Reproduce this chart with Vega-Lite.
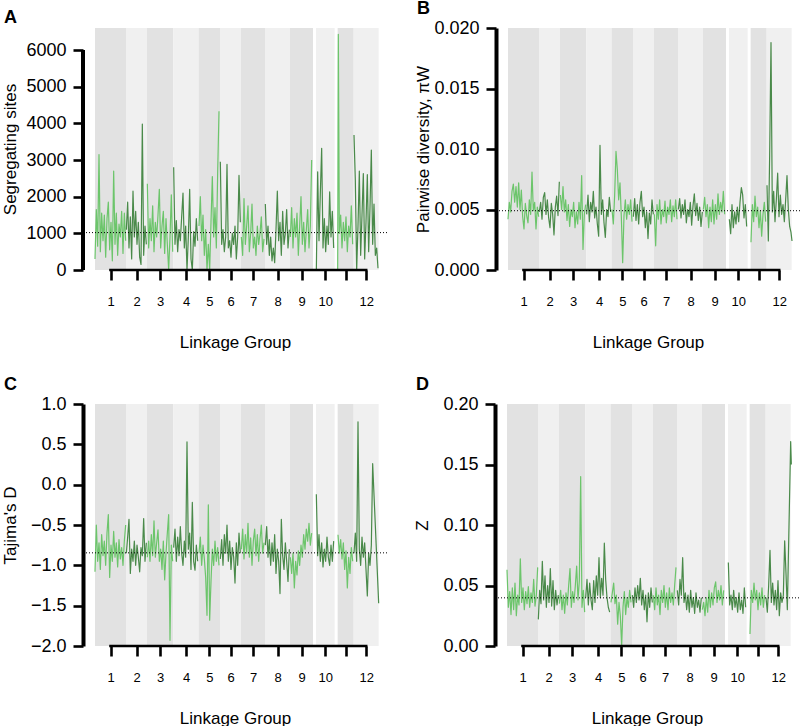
{
"$schema": "https://vega.github.io/schema/vega-lite/v6.json",
"padding": {"left": 0, "top": 0, "right": 0, "bottom": 0},
"background": "white",
"config": {
  "view": {"stroke": null},
  "font": "Liberation Sans",
  "axis": {"grid": false, "domain": false, "tickColor": "black", "tickWidth": 2.6, "tickSize": 10, "labelColor": "black", "labelFont": "Liberation Sans", "labelFontSize": 18, "titleFont": "Liberation Sans", "titleFontSize": 17, "titleFontWeight": "normal", "titleColor": "black"},
  "axisX": {"labelFontSize": 13, "labelPadding": 15, "titleY": 72, "titleBaseline": "middle"},
  "axisY": {"labelPadding": 7, "titleX": -73, "titleBaseline": "middle"},
  "title": {"anchor": "start", "frame": "group", "fontSize": 18, "fontWeight": "bold", "color": "black", "font": "Liberation Sans", "offset": 1}
},
"datasets": {
"bands": [{"s":0,"e":93,"k":"d"},{"s":93,"e":156,"k":"l"},{"s":156,"e":235,"k":"d"},{"s":235,"e":311,"k":"l"},{"s":311,"e":375,"k":"d"},{"s":375,"e":438,"k":"l"},{"s":438,"e":510,"k":"d"},{"s":510,"e":585,"k":"l"},{"s":585,"e":654,"k":"d"},{"s":663,"e":719,"k":"l"},{"s":728,"e":776,"k":"d"},{"s":776,"e":851,"k":"l"}],
"a": [
{"g":1,"x":0,"y":300},{"g":1,"x":4,"y":1650},{"g":1,"x":8,"y":650},{"g":1,"x":12,"y":3150},{"g":1,"x":16,"y":500},{"g":1,"x":20,"y":1550},{"g":1,"x":24,"y":800},{"g":1,"x":28,"y":1500},{"g":1,"x":32,"y":350},{"g":1,"x":36,"y":1400},{"g":1,"x":40,"y":1850},{"g":1,"x":44,"y":550},{"g":1,"x":48,"y":1300},{"g":1,"x":52,"y":250},{"g":1,"x":56,"y":2700},{"g":1,"x":60,"y":700},{"g":1,"x":64,"y":1550},{"g":1,"x":68,"y":400},{"g":1,"x":72,"y":1250},{"g":1,"x":76,"y":900},{"g":1,"x":80,"y":1600},{"g":1,"x":84,"y":450},{"g":1,"x":88,"y":1550},{"g":1,"x":92,"y":800},
{"g":2,"x":94,"y":1100},{"g":2,"x":98,"y":1850},{"g":2,"x":102,"y":600},{"g":2,"x":106,"y":1450},{"g":2,"x":110,"y":300},{"g":2,"x":114,"y":2150},{"g":2,"x":118,"y":900},{"g":2,"x":122,"y":1600},{"g":2,"x":126,"y":700},{"g":2,"x":130,"y":1300},{"g":2,"x":134,"y":350},{"g":2,"x":138,"y":150},{"g":2,"x":142,"y":3980},{"g":2,"x":146,"y":400},{"g":2,"x":150,"y":1200},{"g":2,"x":154,"y":700},
{"g":3,"x":157,"y":2350},{"g":3,"x":161,"y":600},{"g":3,"x":165,"y":1400},{"g":3,"x":169,"y":800},{"g":3,"x":173,"y":1750},{"g":3,"x":177,"y":500},{"g":3,"x":181,"y":1300},{"g":3,"x":185,"y":900},{"g":3,"x":189,"y":1500},{"g":3,"x":193,"y":2200},{"g":3,"x":197,"y":600},{"g":3,"x":201,"y":1200},{"g":3,"x":205,"y":1600},{"g":3,"x":209,"y":450},{"g":3,"x":213,"y":1400},{"g":3,"x":217,"y":700},{"g":3,"x":221,"y":0},{"g":3,"x":225,"y":900},{"g":3,"x":229,"y":2050},{"g":3,"x":233,"y":500},
{"g":4,"x":236,"y":2800},{"g":4,"x":240,"y":700},{"g":4,"x":244,"y":1350},{"g":4,"x":248,"y":500},{"g":4,"x":252,"y":1100},{"g":4,"x":256,"y":800},{"g":4,"x":260,"y":1450},{"g":4,"x":264,"y":2100},{"g":4,"x":268,"y":600},{"g":4,"x":272,"y":1200},{"g":4,"x":276,"y":0},{"g":4,"x":280,"y":900},{"g":4,"x":284,"y":2200},{"g":4,"x":288,"y":300},{"g":4,"x":292,"y":0},{"g":4,"x":296,"y":1050},{"g":4,"x":300,"y":650},{"g":4,"x":304,"y":1400},{"g":4,"x":308,"y":800},
{"g":5,"x":312,"y":1200},{"g":5,"x":316,"y":2000},{"g":5,"x":320,"y":800},{"g":5,"x":324,"y":1500},{"g":5,"x":328,"y":400},{"g":5,"x":332,"y":1100},{"g":5,"x":336,"y":0},{"g":5,"x":340,"y":700},{"g":5,"x":344,"y":0},{"g":5,"x":348,"y":1300},{"g":5,"x":352,"y":2550},{"g":5,"x":356,"y":900},{"g":5,"x":360,"y":1700},{"g":5,"x":364,"y":600},{"g":5,"x":368,"y":2650},{"g":5,"x":372,"y":4330},
{"g":6,"x":376,"y":2950},{"g":6,"x":380,"y":700},{"g":6,"x":384,"y":1100},{"g":6,"x":388,"y":500},{"g":6,"x":392,"y":900},{"g":6,"x":396,"y":2880},{"g":6,"x":400,"y":600},{"g":6,"x":404,"y":800},{"g":6,"x":408,"y":350},{"g":6,"x":412,"y":1000},{"g":6,"x":416,"y":700},{"g":6,"x":420,"y":1200},{"g":6,"x":424,"y":300},{"g":6,"x":428,"y":900},{"g":6,"x":432,"y":2580},{"g":6,"x":436,"y":1300},
{"g":7,"x":439,"y":900},{"g":7,"x":443,"y":400},{"g":7,"x":447,"y":1950},{"g":7,"x":451,"y":700},{"g":7,"x":455,"y":1200},{"g":7,"x":459,"y":1750},{"g":7,"x":463,"y":500},{"g":7,"x":467,"y":1000},{"g":7,"x":471,"y":1800},{"g":7,"x":475,"y":600},{"g":7,"x":479,"y":900},{"g":7,"x":483,"y":400},{"g":7,"x":487,"y":1200},{"g":7,"x":491,"y":700},{"g":7,"x":495,"y":1000},{"g":7,"x":499,"y":1450},{"g":7,"x":503,"y":500},{"g":7,"x":507,"y":850},
{"g":8,"x":511,"y":1800},{"g":8,"x":515,"y":700},{"g":8,"x":519,"y":1200},{"g":8,"x":523,"y":400},{"g":8,"x":527,"y":900},{"g":8,"x":531,"y":250},{"g":8,"x":535,"y":600},{"g":8,"x":539,"y":200},{"g":8,"x":543,"y":1100},{"g":8,"x":547,"y":2150},{"g":8,"x":551,"y":800},{"g":8,"x":555,"y":1300},{"g":8,"x":559,"y":400},{"g":8,"x":563,"y":1600},{"g":8,"x":567,"y":700},{"g":8,"x":571,"y":1000},{"g":8,"x":575,"y":1650},{"g":8,"x":579,"y":600},{"g":8,"x":583,"y":1100},
{"g":9,"x":586,"y":900},{"g":9,"x":590,"y":1700},{"g":9,"x":594,"y":600},{"g":9,"x":598,"y":1400},{"g":9,"x":602,"y":900},{"g":9,"x":606,"y":1550},{"g":9,"x":610,"y":400},{"g":9,"x":614,"y":1200},{"g":9,"x":618,"y":2000},{"g":9,"x":622,"y":700},{"g":9,"x":626,"y":1300},{"g":9,"x":630,"y":500},{"g":9,"x":634,"y":1100},{"g":9,"x":638,"y":1650},{"g":9,"x":642,"y":600},{"g":9,"x":646,"y":1200},{"g":9,"x":650,"y":3000},
{"g":10,"x":664,"y":0},{"g":10,"x":668,"y":2680},{"g":10,"x":672,"y":800},{"g":10,"x":676,"y":2100},{"g":10,"x":680,"y":3320},{"g":10,"x":684,"y":600},{"g":10,"x":688,"y":1400},{"g":10,"x":692,"y":500},{"g":10,"x":696,"y":1200},{"g":10,"x":700,"y":700},{"g":10,"x":704,"y":2130},{"g":10,"x":708,"y":900},{"g":10,"x":712,"y":1600},{"g":10,"x":716,"y":600},
{"g":11,"x":728,"y":0},{"g":11,"x":730,"y":6430},{"g":11,"x":733,"y":1000},{"g":11,"x":737,"y":1500},{"g":11,"x":741,"y":600},{"g":11,"x":745,"y":1300},{"g":11,"x":749,"y":800},{"g":11,"x":753,"y":1450},{"g":11,"x":757,"y":500},{"g":11,"x":761,"y":1200},{"g":11,"x":765,"y":900},{"g":11,"x":769,"y":1750},{"g":11,"x":773,"y":700},
{"g":12,"x":777,"y":3680},{"g":12,"x":781,"y":2450},{"g":12,"x":785,"y":0},{"g":12,"x":789,"y":1200},{"g":12,"x":793,"y":2700},{"g":12,"x":797,"y":400},{"g":12,"x":801,"y":1500},{"g":12,"x":805,"y":2630},{"g":12,"x":809,"y":300},{"g":12,"x":813,"y":1300},{"g":12,"x":817,"y":2600},{"g":12,"x":821,"y":500},{"g":12,"x":825,"y":1700},{"g":12,"x":829,"y":3270},{"g":12,"x":833,"y":700},{"g":12,"x":837,"y":1800},{"g":12,"x":841,"y":400},{"g":12,"x":845,"y":600},{"g":12,"x":849,"y":50}
],
"b": [
{"g":1,"x":0,"y":0.0042},{"g":1,"x":4,"y":0.0056},{"g":1,"x":8,"y":0.0048},{"g":1,"x":12,"y":0.0065},{"g":1,"x":16,"y":0.0071},{"g":1,"x":20,"y":0.0056},{"g":1,"x":24,"y":0.0069},{"g":1,"x":28,"y":0.0052},{"g":1,"x":32,"y":0.0072},{"g":1,"x":36,"y":0.0050},{"g":1,"x":40,"y":0.0066},{"g":1,"x":44,"y":0.0044},{"g":1,"x":48,"y":0.0034},{"g":1,"x":52,"y":0.0055},{"g":1,"x":56,"y":0.0045},{"g":1,"x":60,"y":0.0039},{"g":1,"x":64,"y":0.0058},{"g":1,"x":68,"y":0.0046},{"g":1,"x":72,"y":0.0081},{"g":1,"x":76,"y":0.0049},{"g":1,"x":80,"y":0.0056},{"g":1,"x":84,"y":0.0034},{"g":1,"x":88,"y":0.0052},{"g":1,"x":92,"y":0.0044},
{"g":2,"x":94,"y":0.0048},{"g":2,"x":98,"y":0.0056},{"g":2,"x":102,"y":0.0042},{"g":2,"x":106,"y":0.0060},{"g":2,"x":110,"y":0.0064},{"g":2,"x":114,"y":0.0046},{"g":2,"x":118,"y":0.0058},{"g":2,"x":122,"y":0.0043},{"g":2,"x":126,"y":0.0035},{"g":2,"x":130,"y":0.0055},{"g":2,"x":134,"y":0.0046},{"g":2,"x":138,"y":0.0029},{"g":2,"x":142,"y":0.0052},{"g":2,"x":146,"y":0.0061},{"g":2,"x":150,"y":0.0045},{"g":2,"x":154,"y":0.0073},
{"g":3,"x":157,"y":0.0062},{"g":3,"x":161,"y":0.0050},{"g":3,"x":165,"y":0.0069},{"g":3,"x":169,"y":0.0048},{"g":3,"x":173,"y":0.0058},{"g":3,"x":177,"y":0.0041},{"g":3,"x":181,"y":0.0054},{"g":3,"x":185,"y":0.0036},{"g":3,"x":189,"y":0.0050},{"g":3,"x":193,"y":0.0044},{"g":3,"x":197,"y":0.0056},{"g":3,"x":201,"y":0.0035},{"g":3,"x":205,"y":0.0048},{"g":3,"x":209,"y":0.0038},{"g":3,"x":213,"y":0.0056},{"g":3,"x":217,"y":0.0042},{"g":3,"x":221,"y":0.0078},{"g":3,"x":225,"y":0.0017},{"g":3,"x":229,"y":0.0046},{"g":3,"x":233,"y":0.0054},
{"g":4,"x":236,"y":0.0046},{"g":4,"x":240,"y":0.0062},{"g":4,"x":244,"y":0.0040},{"g":4,"x":248,"y":0.0056},{"g":4,"x":252,"y":0.0048},{"g":4,"x":256,"y":0.0065},{"g":4,"x":260,"y":0.0043},{"g":4,"x":264,"y":0.0052},{"g":4,"x":268,"y":0.0038},{"g":4,"x":272,"y":0.0028},{"g":4,"x":276,"y":0.0103},{"g":4,"x":280,"y":0.0046},{"g":4,"x":284,"y":0.0058},{"g":4,"x":288,"y":0.0039},{"g":4,"x":292,"y":0.0027},{"g":4,"x":296,"y":0.0050},{"g":4,"x":300,"y":0.0044},{"g":4,"x":304,"y":0.0060},{"g":4,"x":308,"y":0.0048},
{"g":5,"x":312,"y":0.0050},{"g":5,"x":316,"y":0.0038},{"g":5,"x":320,"y":0.0062},{"g":5,"x":324,"y":0.0098},{"g":5,"x":328,"y":0.0083},{"g":5,"x":332,"y":0.0058},{"g":5,"x":336,"y":0.0072},{"g":5,"x":340,"y":0.0044},{"g":5,"x":344,"y":0.0006},{"g":5,"x":348,"y":0.0045},{"g":5,"x":352,"y":0.0058},{"g":5,"x":356,"y":0.0042},{"g":5,"x":360,"y":0.0054},{"g":5,"x":364,"y":0.0046},{"g":5,"x":368,"y":0.0058},{"g":5,"x":372,"y":0.0040},
{"g":6,"x":376,"y":0.0044},{"g":6,"x":380,"y":0.0059},{"g":6,"x":384,"y":0.0041},{"g":6,"x":388,"y":0.0054},{"g":6,"x":392,"y":0.0038},{"g":6,"x":396,"y":0.0056},{"g":6,"x":400,"y":0.0065},{"g":6,"x":404,"y":0.0044},{"g":6,"x":408,"y":0.0052},{"g":6,"x":412,"y":0.0035},{"g":6,"x":416,"y":0.0048},{"g":6,"x":420,"y":0.0026},{"g":6,"x":424,"y":0.0047},{"g":6,"x":428,"y":0.0038},{"g":6,"x":432,"y":0.0058},{"g":6,"x":436,"y":0.0046},
{"g":7,"x":439,"y":0.0046},{"g":7,"x":443,"y":0.0020},{"g":7,"x":447,"y":0.0054},{"g":7,"x":451,"y":0.0042},{"g":7,"x":455,"y":0.0058},{"g":7,"x":459,"y":0.0038},{"g":7,"x":463,"y":0.0050},{"g":7,"x":467,"y":0.0044},{"g":7,"x":471,"y":0.0057},{"g":7,"x":475,"y":0.0039},{"g":7,"x":479,"y":0.0052},{"g":7,"x":483,"y":0.0046},{"g":7,"x":487,"y":0.0058},{"g":7,"x":491,"y":0.0040},{"g":7,"x":495,"y":0.0053},{"g":7,"x":499,"y":0.0044},{"g":7,"x":503,"y":0.0058},{"g":7,"x":507,"y":0.0042},
{"g":8,"x":511,"y":0.0050},{"g":8,"x":515,"y":0.0059},{"g":8,"x":519,"y":0.0043},{"g":8,"x":523,"y":0.0054},{"g":8,"x":527,"y":0.0046},{"g":8,"x":531,"y":0.0058},{"g":8,"x":535,"y":0.0039},{"g":8,"x":539,"y":0.0050},{"g":8,"x":543,"y":0.0044},{"g":8,"x":547,"y":0.0056},{"g":8,"x":551,"y":0.0037},{"g":8,"x":555,"y":0.0053},{"g":8,"x":559,"y":0.0063},{"g":8,"x":563,"y":0.0045},{"g":8,"x":567,"y":0.0055},{"g":8,"x":571,"y":0.0041},{"g":8,"x":575,"y":0.0052},{"g":8,"x":579,"y":0.0036},{"g":8,"x":583,"y":0.0048},
{"g":9,"x":586,"y":0.0050},{"g":9,"x":590,"y":0.0060},{"g":9,"x":594,"y":0.0044},{"g":9,"x":598,"y":0.0054},{"g":9,"x":602,"y":0.0035},{"g":9,"x":606,"y":0.0052},{"g":9,"x":610,"y":0.0040},{"g":9,"x":614,"y":0.0058},{"g":9,"x":618,"y":0.0038},{"g":9,"x":622,"y":0.0054},{"g":9,"x":626,"y":0.0042},{"g":9,"x":630,"y":0.0063},{"g":9,"x":634,"y":0.0046},{"g":9,"x":638,"y":0.0056},{"g":9,"x":642,"y":0.0048},{"g":9,"x":646,"y":0.0065},{"g":9,"x":650,"y":0.0046},
{"g":10,"x":664,"y":0.0042},{"g":10,"x":668,"y":0.0030},{"g":10,"x":672,"y":0.0054},{"g":10,"x":676,"y":0.0035},{"g":10,"x":680,"y":0.0048},{"g":10,"x":684,"y":0.0038},{"g":10,"x":688,"y":0.0052},{"g":10,"x":692,"y":0.0040},{"g":10,"x":696,"y":0.0056},{"g":10,"x":700,"y":0.0068},{"g":10,"x":704,"y":0.0062},{"g":10,"x":708,"y":0.0043},{"g":10,"x":712,"y":0.0054},{"g":10,"x":716,"y":0.0036},
{"g":11,"x":729,"y":0.0023},{"g":11,"x":733,"y":0.0054},{"g":11,"x":737,"y":0.0040},{"g":11,"x":741,"y":0.0061},{"g":11,"x":745,"y":0.0044},{"g":11,"x":749,"y":0.0052},{"g":11,"x":753,"y":0.0035},{"g":11,"x":757,"y":0.0049},{"g":11,"x":761,"y":0.0028},{"g":11,"x":765,"y":0.0046},{"g":11,"x":769,"y":0.0056},{"g":11,"x":773,"y":0.0040},
{"g":12,"x":777,"y":0.0070},{"g":12,"x":781,"y":0.0024},{"g":12,"x":785,"y":0.0095},{"g":12,"x":789,"y":0.0188},{"g":12,"x":793,"y":0.0048},{"g":12,"x":797,"y":0.0065},{"g":12,"x":801,"y":0.0040},{"g":12,"x":805,"y":0.0058},{"g":12,"x":809,"y":0.0080},{"g":12,"x":813,"y":0.0044},{"g":12,"x":817,"y":0.0062},{"g":12,"x":821,"y":0.0046},{"g":12,"x":825,"y":0.0054},{"g":12,"x":829,"y":0.0040},{"g":12,"x":833,"y":0.0058},{"g":12,"x":837,"y":0.0078},{"g":12,"x":841,"y":0.0050},{"g":12,"x":845,"y":0.0036},{"g":12,"x":849,"y":0.0031},{"g":12,"x":852,"y":0.0024}
],
"c": [
{"g":1,"x":0,"y":-1.08},{"g":1,"x":4,"y":-0.50},{"g":1,"x":8,"y":-0.95},{"g":1,"x":12,"y":-0.72},{"g":1,"x":16,"y":-1.05},{"g":1,"x":20,"y":-0.62},{"g":1,"x":24,"y":-0.88},{"g":1,"x":28,"y":-0.70},{"g":1,"x":32,"y":-1.0},{"g":1,"x":36,"y":-0.60},{"g":1,"x":40,"y":-0.37},{"g":1,"x":44,"y":-1.15},{"g":1,"x":48,"y":-0.75},{"g":1,"x":52,"y":-0.95},{"g":1,"x":56,"y":-0.58},{"g":1,"x":60,"y":-0.90},{"g":1,"x":64,"y":-0.72},{"g":1,"x":68,"y":-1.02},{"g":1,"x":72,"y":-0.68},{"g":1,"x":76,"y":-0.92},{"g":1,"x":80,"y":-0.78},{"g":1,"x":84,"y":-1.0},{"g":1,"x":88,"y":-0.70},{"g":1,"x":92,"y":-0.50},
{"g":2,"x":94,"y":-0.85},{"g":2,"x":98,"y":-0.65},{"g":2,"x":102,"y":-0.43},{"g":2,"x":106,"y":-1.10},{"g":2,"x":110,"y":-0.80},{"g":2,"x":114,"y":-0.95},{"g":2,"x":118,"y":-0.70},{"g":2,"x":122,"y":-1.0},{"g":2,"x":126,"y":-0.75},{"g":2,"x":130,"y":-0.90},{"g":2,"x":134,"y":-1.08},{"g":2,"x":138,"y":-0.78},{"g":2,"x":142,"y":-0.88},{"g":2,"x":146,"y":-0.42},{"g":2,"x":150,"y":-0.95},{"g":2,"x":154,"y":-0.72},
{"g":3,"x":157,"y":-0.90},{"g":3,"x":161,"y":-0.70},{"g":3,"x":165,"y":-0.95},{"g":3,"x":169,"y":-0.62},{"g":3,"x":173,"y":-0.88},{"g":3,"x":177,"y":-0.45},{"g":3,"x":181,"y":-0.90},{"g":3,"x":185,"y":-0.72},{"g":3,"x":189,"y":-0.56},{"g":3,"x":193,"y":-0.95},{"g":3,"x":197,"y":-0.80},{"g":3,"x":201,"y":-1.05},{"g":3,"x":205,"y":-0.70},{"g":3,"x":209,"y":-1.18},{"g":3,"x":213,"y":-0.85},{"g":3,"x":217,"y":-0.60},{"g":3,"x":221,"y":-0.37},{"g":3,"x":225,"y":-1.93},{"g":3,"x":229,"y":-0.75},{"g":3,"x":233,"y":-0.95},
{"g":4,"x":236,"y":-0.78},{"g":4,"x":240,"y":-0.55},{"g":4,"x":244,"y":-0.95},{"g":4,"x":248,"y":-0.65},{"g":4,"x":252,"y":-0.88},{"g":4,"x":256,"y":-0.52},{"g":4,"x":260,"y":-0.85},{"g":4,"x":264,"y":-1.0},{"g":4,"x":268,"y":-0.70},{"g":4,"x":272,"y":-0.90},{"g":4,"x":276,"y":0.53},{"g":4,"x":280,"y":-0.80},{"g":4,"x":284,"y":-0.60},{"g":4,"x":288,"y":-1.05},{"g":4,"x":292,"y":-0.22},{"g":4,"x":296,"y":-0.95},{"g":4,"x":300,"y":-1.06},{"g":4,"x":304,"y":-0.75},{"g":4,"x":308,"y":-0.95},
{"g":5,"x":312,"y":-0.85},{"g":5,"x":316,"y":-0.65},{"g":5,"x":320,"y":-1.0},{"g":5,"x":324,"y":-0.75},{"g":5,"x":328,"y":-0.92},{"g":5,"x":332,"y":-1.15},{"g":5,"x":336,"y":-1.62},{"g":5,"x":340,"y":-0.25},{"g":5,"x":344,"y":-1.68},{"g":5,"x":348,"y":-1.20},{"g":5,"x":352,"y":-0.80},{"g":5,"x":356,"y":-1.0},{"g":5,"x":360,"y":-0.70},{"g":5,"x":364,"y":-0.95},{"g":5,"x":368,"y":-0.78},{"g":5,"x":372,"y":-1.0},
{"g":6,"x":376,"y":-0.92},{"g":6,"x":380,"y":-0.68},{"g":6,"x":384,"y":-1.0},{"g":6,"x":388,"y":-0.62},{"g":6,"x":392,"y":-0.85},{"g":6,"x":396,"y":-0.50},{"g":6,"x":400,"y":-0.95},{"g":6,"x":404,"y":-0.70},{"g":6,"x":408,"y":-1.05},{"g":6,"x":412,"y":-0.78},{"g":6,"x":416,"y":-0.90},{"g":6,"x":420,"y":-1.22},{"g":6,"x":424,"y":-0.72},{"g":6,"x":428,"y":-1.0},{"g":6,"x":432,"y":-0.60},{"g":6,"x":436,"y":-0.85},
{"g":7,"x":439,"y":-0.80},{"g":7,"x":443,"y":-0.55},{"g":7,"x":447,"y":-0.92},{"g":7,"x":451,"y":-0.62},{"g":7,"x":455,"y":-0.85},{"g":7,"x":459,"y":-0.48},{"g":7,"x":463,"y":-0.90},{"g":7,"x":467,"y":-0.66},{"g":7,"x":471,"y":-1.0},{"g":7,"x":475,"y":-0.70},{"g":7,"x":479,"y":-0.55},{"g":7,"x":483,"y":-0.88},{"g":7,"x":487,"y":-0.62},{"g":7,"x":491,"y":-0.95},{"g":7,"x":495,"y":-0.68},{"g":7,"x":499,"y":-0.50},{"g":7,"x":503,"y":-0.85},{"g":7,"x":507,"y":-0.72},
{"g":8,"x":511,"y":-0.75},{"g":8,"x":515,"y":-0.52},{"g":8,"x":519,"y":-0.90},{"g":8,"x":523,"y":-0.68},{"g":8,"x":527,"y":-1.0},{"g":8,"x":531,"y":-0.72},{"g":8,"x":535,"y":-0.95},{"g":8,"x":539,"y":-0.62},{"g":8,"x":543,"y":-1.1},{"g":8,"x":547,"y":-0.80},{"g":8,"x":551,"y":-0.95},{"g":8,"x":555,"y":-1.35},{"g":8,"x":559,"y":-0.43},{"g":8,"x":563,"y":-0.88},{"g":8,"x":567,"y":-1.05},{"g":8,"x":571,"y":-0.72},{"g":8,"x":575,"y":-0.95},{"g":8,"x":579,"y":-1.20},{"g":8,"x":583,"y":-0.80},
{"g":9,"x":586,"y":-0.90},{"g":9,"x":590,"y":-1.10},{"g":9,"x":594,"y":-0.85},{"g":9,"x":598,"y":-1.28},{"g":9,"x":602,"y":-0.95},{"g":9,"x":606,"y":-1.12},{"g":9,"x":610,"y":-0.82},{"g":9,"x":614,"y":-1.0},{"g":9,"x":618,"y":-0.75},{"g":9,"x":622,"y":-0.90},{"g":9,"x":626,"y":-0.62},{"g":9,"x":630,"y":-0.80},{"g":9,"x":634,"y":-0.55},{"g":9,"x":638,"y":-0.70},{"g":9,"x":642,"y":-0.48},{"g":9,"x":646,"y":-0.75},{"g":9,"x":650,"y":-0.60},
{"g":10,"x":664,"y":-0.12},{"g":10,"x":668,"y":-0.88},{"g":10,"x":672,"y":-0.62},{"g":10,"x":676,"y":-0.95},{"g":10,"x":680,"y":-0.72},{"g":10,"x":684,"y":-1.02},{"g":10,"x":688,"y":-0.80},{"g":10,"x":692,"y":-0.95},{"g":10,"x":696,"y":-0.65},{"g":10,"x":700,"y":-0.90},{"g":10,"x":704,"y":-1.0},{"g":10,"x":708,"y":-0.75},{"g":10,"x":712,"y":-0.95},{"g":10,"x":716,"y":-0.70},
{"g":11,"x":729,"y":-0.62},{"g":11,"x":733,"y":-0.85},{"g":11,"x":737,"y":-0.68},{"g":11,"x":741,"y":-0.92},{"g":11,"x":745,"y":-0.72},{"g":11,"x":749,"y":-1.05},{"g":11,"x":753,"y":-0.82},{"g":11,"x":757,"y":-1.28},{"g":11,"x":761,"y":-0.90},{"g":11,"x":765,"y":-1.10},{"g":11,"x":769,"y":-0.78},{"g":11,"x":773,"y":-0.95},
{"g":12,"x":777,"y":-0.85},{"g":12,"x":781,"y":-0.60},{"g":12,"x":785,"y":-0.95},{"g":12,"x":789,"y":0.78},{"g":12,"x":793,"y":-0.80},{"g":12,"x":797,"y":-1.0},{"g":12,"x":801,"y":-0.65},{"g":12,"x":805,"y":-0.90},{"g":12,"x":809,"y":-0.72},{"g":12,"x":813,"y":-1.05},{"g":12,"x":817,"y":-1.38},{"g":12,"x":821,"y":-0.85},{"g":12,"x":825,"y":-1.0},{"g":12,"x":829,"y":-0.75},{"g":12,"x":833,"y":0.26},{"g":12,"x":851,"y":-1.47}
],
"d": [
{"g":1,"x":0,"y":0.063},{"g":1,"x":4,"y":0.032},{"g":1,"x":8,"y":0.045},{"g":1,"x":12,"y":0.026},{"g":1,"x":16,"y":0.048},{"g":1,"x":20,"y":0.030},{"g":1,"x":24,"y":0.052},{"g":1,"x":28,"y":0.025},{"g":1,"x":32,"y":0.042},{"g":1,"x":36,"y":0.034},{"g":1,"x":40,"y":0.072},{"g":1,"x":44,"y":0.036},{"g":1,"x":48,"y":0.048},{"g":1,"x":52,"y":0.030},{"g":1,"x":56,"y":0.045},{"g":1,"x":60,"y":0.035},{"g":1,"x":64,"y":0.049},{"g":1,"x":68,"y":0.032},{"g":1,"x":72,"y":0.044},{"g":1,"x":76,"y":0.036},{"g":1,"x":80,"y":0.055},{"g":1,"x":84,"y":0.033},{"g":1,"x":88,"y":0.042},{"g":1,"x":92,"y":0.065},
{"g":2,"x":94,"y":0.022},{"g":2,"x":98,"y":0.046},{"g":2,"x":102,"y":0.035},{"g":2,"x":106,"y":0.070},{"g":2,"x":110,"y":0.038},{"g":2,"x":114,"y":0.058},{"g":2,"x":118,"y":0.032},{"g":2,"x":122,"y":0.050},{"g":2,"x":126,"y":0.036},{"g":2,"x":130,"y":0.064},{"g":2,"x":134,"y":0.033},{"g":2,"x":138,"y":0.054},{"g":2,"x":142,"y":0.030},{"g":2,"x":146,"y":0.046},{"g":2,"x":150,"y":0.034},{"g":2,"x":154,"y":0.042},
{"g":3,"x":157,"y":0.035},{"g":3,"x":161,"y":0.046},{"g":3,"x":165,"y":0.030},{"g":3,"x":169,"y":0.042},{"g":3,"x":173,"y":0.027},{"g":3,"x":177,"y":0.044},{"g":3,"x":181,"y":0.034},{"g":3,"x":185,"y":0.050},{"g":3,"x":189,"y":0.064},{"g":3,"x":193,"y":0.032},{"g":3,"x":197,"y":0.045},{"g":3,"x":201,"y":0.036},{"g":3,"x":205,"y":0.050},{"g":3,"x":209,"y":0.066},{"g":3,"x":213,"y":0.038},{"g":3,"x":217,"y":0.054},{"g":3,"x":221,"y":0.140},{"g":3,"x":225,"y":0.032},{"g":3,"x":229,"y":0.046},{"g":3,"x":233,"y":0.028},
{"g":4,"x":236,"y":0.040},{"g":4,"x":240,"y":0.055},{"g":4,"x":244,"y":0.034},{"g":4,"x":248,"y":0.052},{"g":4,"x":252,"y":0.038},{"g":4,"x":256,"y":0.030},{"g":4,"x":260,"y":0.054},{"g":4,"x":264,"y":0.036},{"g":4,"x":268,"y":0.058},{"g":4,"x":272,"y":0.042},{"g":4,"x":276,"y":0.073},{"g":4,"x":280,"y":0.040},{"g":4,"x":284,"y":0.056},{"g":4,"x":288,"y":0.042},{"g":4,"x":292,"y":0.085},{"g":4,"x":296,"y":0.055},{"g":4,"x":300,"y":0.040},{"g":4,"x":304,"y":0.032},{"g":4,"x":308,"y":0.028},
{"g":5,"x":312,"y":0.036},{"g":5,"x":316,"y":0.044},{"g":5,"x":320,"y":0.052},{"g":5,"x":324,"y":0.035},{"g":5,"x":328,"y":0.042},{"g":5,"x":332,"y":0.018},{"g":5,"x":336,"y":0.036},{"g":5,"x":340,"y":0.025},{"g":5,"x":344,"y":0.0},{"g":5,"x":348,"y":0.032},{"g":5,"x":352,"y":0.045},{"g":5,"x":356,"y":0.026},{"g":5,"x":360,"y":0.040},{"g":5,"x":364,"y":0.032},{"g":5,"x":368,"y":0.046},{"g":5,"x":372,"y":0.036},
{"g":6,"x":376,"y":0.042},{"g":6,"x":380,"y":0.032},{"g":6,"x":384,"y":0.048},{"g":6,"x":388,"y":0.036},{"g":6,"x":392,"y":0.050},{"g":6,"x":396,"y":0.038},{"g":6,"x":400,"y":0.056},{"g":6,"x":404,"y":0.034},{"g":6,"x":408,"y":0.046},{"g":6,"x":412,"y":0.030},{"g":6,"x":416,"y":0.042},{"g":6,"x":420,"y":0.020},{"g":6,"x":424,"y":0.044},{"g":6,"x":428,"y":0.032},{"g":6,"x":432,"y":0.048},{"g":6,"x":436,"y":0.036},
{"g":7,"x":439,"y":0.042},{"g":7,"x":443,"y":0.030},{"g":7,"x":447,"y":0.048},{"g":7,"x":451,"y":0.034},{"g":7,"x":455,"y":0.042},{"g":7,"x":459,"y":0.026},{"g":7,"x":463,"y":0.046},{"g":7,"x":467,"y":0.036},{"g":7,"x":471,"y":0.050},{"g":7,"x":475,"y":0.032},{"g":7,"x":479,"y":0.044},{"g":7,"x":483,"y":0.030},{"g":7,"x":487,"y":0.048},{"g":7,"x":491,"y":0.036},{"g":7,"x":495,"y":0.044},{"g":7,"x":499,"y":0.034},{"g":7,"x":503,"y":0.050},{"g":7,"x":507,"y":0.065},
{"g":8,"x":511,"y":0.046},{"g":8,"x":515,"y":0.034},{"g":8,"x":519,"y":0.055},{"g":8,"x":523,"y":0.042},{"g":8,"x":527,"y":0.073},{"g":8,"x":531,"y":0.036},{"g":8,"x":535,"y":0.044},{"g":8,"x":539,"y":0.030},{"g":8,"x":543,"y":0.042},{"g":8,"x":547,"y":0.028},{"g":8,"x":551,"y":0.046},{"g":8,"x":555,"y":0.032},{"g":8,"x":559,"y":0.040},{"g":8,"x":563,"y":0.027},{"g":8,"x":567,"y":0.044},{"g":8,"x":571,"y":0.032},{"g":8,"x":575,"y":0.038},{"g":8,"x":579,"y":0.028},{"g":8,"x":583,"y":0.040},
{"g":9,"x":586,"y":0.030},{"g":9,"x":590,"y":0.036},{"g":9,"x":594,"y":0.025},{"g":9,"x":598,"y":0.040},{"g":9,"x":602,"y":0.028},{"g":9,"x":606,"y":0.046},{"g":9,"x":610,"y":0.032},{"g":9,"x":614,"y":0.044},{"g":9,"x":618,"y":0.034},{"g":9,"x":622,"y":0.048},{"g":9,"x":626,"y":0.053},{"g":9,"x":630,"y":0.036},{"g":9,"x":634,"y":0.046},{"g":9,"x":638,"y":0.038},{"g":9,"x":642,"y":0.050},{"g":9,"x":646,"y":0.034},{"g":9,"x":650,"y":0.046},
{"g":10,"x":664,"y":0.069},{"g":10,"x":668,"y":0.034},{"g":10,"x":672,"y":0.042},{"g":10,"x":676,"y":0.030},{"g":10,"x":680,"y":0.046},{"g":10,"x":684,"y":0.032},{"g":10,"x":688,"y":0.040},{"g":10,"x":692,"y":0.028},{"g":10,"x":696,"y":0.044},{"g":10,"x":700,"y":0.030},{"g":10,"x":704,"y":0.038},{"g":10,"x":708,"y":0.027},{"g":10,"x":712,"y":0.048},{"g":10,"x":716,"y":0.032},
{"g":11,"x":729,"y":0.010},{"g":11,"x":733,"y":0.046},{"g":11,"x":737,"y":0.036},{"g":11,"x":741,"y":0.052},{"g":11,"x":745,"y":0.038},{"g":11,"x":749,"y":0.046},{"g":11,"x":753,"y":0.030},{"g":11,"x":757,"y":0.044},{"g":11,"x":761,"y":0.034},{"g":11,"x":765,"y":0.048},{"g":11,"x":769,"y":0.032},{"g":11,"x":773,"y":0.042},
{"g":12,"x":777,"y":0.040},{"g":12,"x":781,"y":0.028},{"g":12,"x":785,"y":0.050},{"g":12,"x":789,"y":0.079},{"g":12,"x":793,"y":0.036},{"g":12,"x":797,"y":0.052},{"g":12,"x":801,"y":0.034},{"g":12,"x":805,"y":0.046},{"g":12,"x":809,"y":0.030},{"g":12,"x":813,"y":0.054},{"g":12,"x":817,"y":0.025},{"g":12,"x":821,"y":0.044},{"g":12,"x":825,"y":0.036},{"g":12,"x":829,"y":0.042},{"g":12,"x":833,"y":0.087},{"g":12,"x":837,"y":0.060},{"g":12,"x":841,"y":0.030},{"g":12,"x":851,"y":0.169},{"g":12,"x":853,"y":0.150}
]
},
"vconcat": [
{"spacing": 25, "hconcat": [
{"width": 304, "height": 242, "title": {"text": "A", "dx": -79},
 "layer": [
  {"data": {"name": "bands"}, "mark": "rect", "encoding": {"x": {"field": "s", "type": "quantitative", "scale": {"domain": [-36, 876], "nice": false, "zero": false}, "axis": {"values": [46.5,124.5,195.5,273,343,406.5,474,547.5,619.5,691,752,813.5], "labelOverlap": false, "labelFlush": false, "labelBound": false, "labelExpr": "datum.value < 90 ? '1' : datum.value < 160 ? '2' : datum.value < 230 ? '3' : datum.value < 300 ? '4' : datum.value < 375 ? '5' : datum.value < 440 ? '6' : datum.value < 510 ? '7' : datum.value < 585 ? '8' : datum.value < 655 ? '9' : datum.value < 720 ? '10' : datum.value < 780 ? '' : '12'", "title": "Linkage Group"}}, "x2": {"field": "e"}, "fill": {"field": "k", "type": "nominal", "scale": {"domain": ["d", "l"], "range": ["#e2e2e2", "#f0f0f0"]}, "legend": null}}},
  {"data": {"name": "a"}, "mark": {"type": "line", "strokeWidth": 1.2, "strokeJoin": "round"}, "encoding": {
    "x": {"field": "x", "type": "quantitative", "scale": {"domain": [-36, 876], "nice": false, "zero": false}, "axis": {"values": [46.5,124.5,195.5,273,343,406.5,474,547.5,619.5,691,752,813.5], "labelOverlap": false, "labelFlush": false, "labelBound": false, "labelExpr": "datum.value < 90 ? '1' : datum.value < 160 ? '2' : datum.value < 230 ? '3' : datum.value < 300 ? '4' : datum.value < 375 ? '5' : datum.value < 440 ? '6' : datum.value < 510 ? '7' : datum.value < 585 ? '8' : datum.value < 655 ? '9' : datum.value < 720 ? '10' : datum.value < 780 ? '' : '12'", "title": "Linkage Group"}},
    "y": {"field": "y", "type": "quantitative", "scale": {"domain": [0, 6600], "nice": false, "zero": false}, "axis": {"values": [0,1000,2000,3000,4000,5000,6000], "labelOverlap": false, "labelFlush": false, "format": "d", "title": "Segregating sites"}},
    "stroke": {"field": "g", "type": "nominal", "scale": {"domain": [1,2,3,4,5,6,7,8,9,10,11,12], "range": ["#6cc56b","#4a8a4a","#6cc56b","#4a8a4a","#6cc56b","#4a8a4a","#6cc56b","#4a8a4a","#6cc56b","#4a8a4a","#6cc56b","#4a8a4a"]}, "legend": null}}},
  {"data": {"values": [{"m": 1020}]}, "mark": {"type": "rule", "color": "black", "strokeWidth": 1, "strokeDash": [1, 2]}, "encoding": {"y": {"field": "m", "type": "quantitative", "scale": {"domain": [0, 6600], "nice": false, "zero": false}, "axis": {"values": [0,1000,2000,3000,4000,5000,6000], "labelOverlap": false, "labelFlush": false, "format": "d", "title": "Segregating sites"}}}},
  {"data": {"values": [{"px": -36, "py": 0}, {"px": -36, "py": 6000}]}, "mark": {"type": "line", "color": "#000000", "strokeWidth": 4}, "encoding": {"x": {"field": "px", "type": "quantitative", "scale": {"domain": [-36, 876], "nice": false, "zero": false}, "axis": {"values": [46.5,124.5,195.5,273,343,406.5,474,547.5,619.5,691,752,813.5], "labelOverlap": false, "labelFlush": false, "labelBound": false, "labelExpr": "datum.value < 90 ? '1' : datum.value < 160 ? '2' : datum.value < 230 ? '3' : datum.value < 300 ? '4' : datum.value < 375 ? '5' : datum.value < 440 ? '6' : datum.value < 510 ? '7' : datum.value < 585 ? '8' : datum.value < 655 ? '9' : datum.value < 720 ? '10' : datum.value < 780 ? '' : '12'", "title": "Linkage Group"}}, "y": {"field": "py", "type": "quantitative", "scale": {"domain": [0, 6600], "nice": false, "zero": false}, "axis": {"values": [0,1000,2000,3000,4000,5000,6000], "labelOverlap": false, "labelFlush": false, "format": "d", "title": "Segregating sites"}}}},
  {"data": {"values": [{"px": 46.5, "py": 0}, {"px": 813.5, "py": 0}]}, "mark": {"type": "line", "color": "black", "strokeWidth": 2.6, "strokeCap": "square"}, "encoding": {"x": {"field": "px", "type": "quantitative", "scale": {"domain": [-36, 876], "nice": false, "zero": false}, "axis": {"values": [46.5,124.5,195.5,273,343,406.5,474,547.5,619.5,691,752,813.5], "labelOverlap": false, "labelFlush": false, "labelBound": false, "labelExpr": "datum.value < 90 ? '1' : datum.value < 160 ? '2' : datum.value < 230 ? '3' : datum.value < 300 ? '4' : datum.value < 375 ? '5' : datum.value < 440 ? '6' : datum.value < 510 ? '7' : datum.value < 585 ? '8' : datum.value < 655 ? '9' : datum.value < 720 ? '10' : datum.value < 780 ? '' : '12'", "title": "Linkage Group"}}, "y": {"field": "py", "type": "quantitative", "scale": {"domain": [0, 6600], "nice": false, "zero": false}, "axis": {"values": [0,1000,2000,3000,4000,5000,6000], "labelOverlap": false, "labelFlush": false, "format": "d", "title": "Segregating sites"}}}}
 ]},
{"width": 304, "height": 242, "title": {"text": "B", "dx": -79},
 "layer": [
  {"data": {"name": "bands"}, "mark": "rect", "encoding": {"x": {"field": "s", "type": "quantitative", "scale": {"domain": [-36, 876], "nice": false, "zero": false}, "axis": {"values": [46.5,124.5,195.5,273,343,406.5,474,547.5,619.5,691,752,813.5], "labelOverlap": false, "labelFlush": false, "labelBound": false, "labelExpr": "datum.value < 90 ? '1' : datum.value < 160 ? '2' : datum.value < 230 ? '3' : datum.value < 300 ? '4' : datum.value < 375 ? '5' : datum.value < 440 ? '6' : datum.value < 510 ? '7' : datum.value < 585 ? '8' : datum.value < 655 ? '9' : datum.value < 720 ? '10' : datum.value < 780 ? '' : '12'", "title": "Linkage Group"}}, "x2": {"field": "e"}, "fill": {"field": "k", "type": "nominal", "scale": {"domain": ["d", "l"], "range": ["#e2e2e2", "#f0f0f0"]}, "legend": null}}},
  {"data": {"name": "b"}, "mark": {"type": "line", "strokeWidth": 1.2, "strokeJoin": "round"}, "encoding": {
    "x": {"field": "x", "type": "quantitative", "scale": {"domain": [-36, 876], "nice": false, "zero": false}, "axis": {"values": [46.5,124.5,195.5,273,343,406.5,474,547.5,619.5,691,752,813.5], "labelOverlap": false, "labelFlush": false, "labelBound": false, "labelExpr": "datum.value < 90 ? '1' : datum.value < 160 ? '2' : datum.value < 230 ? '3' : datum.value < 300 ? '4' : datum.value < 375 ? '5' : datum.value < 440 ? '6' : datum.value < 510 ? '7' : datum.value < 585 ? '8' : datum.value < 655 ? '9' : datum.value < 720 ? '10' : datum.value < 780 ? '' : '12'", "title": "Linkage Group"}},
    "y": {"field": "y", "type": "quantitative", "scale": {"domain": [0, 0.02], "nice": false, "zero": false}, "axis": {"values": [0,0.005,0.01,0.015,0.02], "labelOverlap": false, "labelFlush": false, "format": ".3f", "title": "Pairwise diversity, πW", "domain": true, "domainColor": "#000000", "domainWidth": 4}},
    "stroke": {"field": "g", "type": "nominal", "scale": {"domain": [1,2,3,4,5,6,7,8,9,10,11,12], "range": ["#6cc56b","#4a8a4a","#6cc56b","#4a8a4a","#6cc56b","#4a8a4a","#6cc56b","#4a8a4a","#6cc56b","#4a8a4a","#6cc56b","#4a8a4a"]}, "legend": null}}},
  {"data": {"values": [{"m": 0.0049}]}, "mark": {"type": "rule", "color": "black", "strokeWidth": 1, "strokeDash": [1, 2]}, "encoding": {"y": {"field": "m", "type": "quantitative", "scale": {"domain": [0, 0.02], "nice": false, "zero": false}, "axis": {"values": [0,0.005,0.01,0.015,0.02], "labelOverlap": false, "labelFlush": false, "format": ".3f", "title": "Pairwise diversity, πW", "domain": true, "domainColor": "#000000", "domainWidth": 4}}}},
  {"data": {"values": [{"px": 46.5, "py": 0}, {"px": 813.5, "py": 0}]}, "mark": {"type": "line", "color": "black", "strokeWidth": 2.6, "strokeCap": "square"}, "encoding": {"x": {"field": "px", "type": "quantitative", "scale": {"domain": [-36, 876], "nice": false, "zero": false}, "axis": {"values": [46.5,124.5,195.5,273,343,406.5,474,547.5,619.5,691,752,813.5], "labelOverlap": false, "labelFlush": false, "labelBound": false, "labelExpr": "datum.value < 90 ? '1' : datum.value < 160 ? '2' : datum.value < 230 ? '3' : datum.value < 300 ? '4' : datum.value < 375 ? '5' : datum.value < 440 ? '6' : datum.value < 510 ? '7' : datum.value < 585 ? '8' : datum.value < 655 ? '9' : datum.value < 720 ? '10' : datum.value < 780 ? '' : '12'", "title": "Linkage Group"}}, "y": {"field": "py", "type": "quantitative", "scale": {"domain": [0, 0.02], "nice": false, "zero": false}, "axis": {"values": [0,0.005,0.01,0.015,0.02], "labelOverlap": false, "labelFlush": false, "format": ".3f", "title": "Pairwise diversity, πW", "domain": true, "domainColor": "#000000", "domainWidth": 4}}}}
 ]}
]},
{"spacing": 25, "hconcat": [
{"width": 304, "height": 242, "title": {"text": "C", "dx": -79},
 "layer": [
  {"data": {"name": "bands"}, "mark": "rect", "encoding": {"x": {"field": "s", "type": "quantitative", "scale": {"domain": [-36, 876], "nice": false, "zero": false}, "axis": {"values": [46.5,124.5,195.5,273,343,406.5,474,547.5,619.5,691,752,813.5], "labelOverlap": false, "labelFlush": false, "labelBound": false, "labelExpr": "datum.value < 90 ? '1' : datum.value < 160 ? '2' : datum.value < 230 ? '3' : datum.value < 300 ? '4' : datum.value < 375 ? '5' : datum.value < 440 ? '6' : datum.value < 510 ? '7' : datum.value < 585 ? '8' : datum.value < 655 ? '9' : datum.value < 720 ? '10' : datum.value < 780 ? '' : '12'", "title": "Linkage Group"}}, "x2": {"field": "e"}, "fill": {"field": "k", "type": "nominal", "scale": {"domain": ["d", "l"], "range": ["#e2e2e2", "#f0f0f0"]}, "legend": null}}},
  {"data": {"name": "c"}, "mark": {"type": "line", "strokeWidth": 1.2, "strokeJoin": "round"}, "encoding": {
    "x": {"field": "x", "type": "quantitative", "scale": {"domain": [-36, 876], "nice": false, "zero": false}, "axis": {"values": [46.5,124.5,195.5,273,343,406.5,474,547.5,619.5,691,752,813.5], "labelOverlap": false, "labelFlush": false, "labelBound": false, "labelExpr": "datum.value < 90 ? '1' : datum.value < 160 ? '2' : datum.value < 230 ? '3' : datum.value < 300 ? '4' : datum.value < 375 ? '5' : datum.value < 440 ? '6' : datum.value < 510 ? '7' : datum.value < 585 ? '8' : datum.value < 655 ? '9' : datum.value < 720 ? '10' : datum.value < 780 ? '' : '12'", "title": "Linkage Group"}},
    "y": {"field": "y", "type": "quantitative", "scale": {"domain": [-2, 1], "nice": false, "zero": false}, "axis": {"values": [-2,-1.5,-1,-0.5,0,0.5,1], "labelOverlap": false, "labelFlush": false, "format": ".1f", "title": "Tajima's D", "domain": true, "domainColor": "#000000", "domainWidth": 4}},
    "stroke": {"field": "g", "type": "nominal", "scale": {"domain": [1,2,3,4,5,6,7,8,9,10,11,12], "range": ["#6cc56b","#4a8a4a","#6cc56b","#4a8a4a","#6cc56b","#4a8a4a","#6cc56b","#4a8a4a","#6cc56b","#4a8a4a","#6cc56b","#4a8a4a"]}, "legend": null}}},
  {"data": {"values": [{"m": -0.845}]}, "mark": {"type": "rule", "color": "black", "strokeWidth": 1, "strokeDash": [1, 2]}, "encoding": {"y": {"field": "m", "type": "quantitative", "scale": {"domain": [-2, 1], "nice": false, "zero": false}, "axis": {"values": [-2,-1.5,-1,-0.5,0,0.5,1], "labelOverlap": false, "labelFlush": false, "format": ".1f", "title": "Tajima's D", "domain": true, "domainColor": "#000000", "domainWidth": 4}}}},
  {"data": {"values": [{"px": 46.5, "py": -2}, {"px": 813.5, "py": -2}]}, "mark": {"type": "line", "color": "black", "strokeWidth": 2.6, "strokeCap": "square"}, "encoding": {"x": {"field": "px", "type": "quantitative", "scale": {"domain": [-36, 876], "nice": false, "zero": false}, "axis": {"values": [46.5,124.5,195.5,273,343,406.5,474,547.5,619.5,691,752,813.5], "labelOverlap": false, "labelFlush": false, "labelBound": false, "labelExpr": "datum.value < 90 ? '1' : datum.value < 160 ? '2' : datum.value < 230 ? '3' : datum.value < 300 ? '4' : datum.value < 375 ? '5' : datum.value < 440 ? '6' : datum.value < 510 ? '7' : datum.value < 585 ? '8' : datum.value < 655 ? '9' : datum.value < 720 ? '10' : datum.value < 780 ? '' : '12'", "title": "Linkage Group"}}, "y": {"field": "py", "type": "quantitative", "scale": {"domain": [-2, 1], "nice": false, "zero": false}, "axis": {"values": [-2,-1.5,-1,-0.5,0,0.5,1], "labelOverlap": false, "labelFlush": false, "format": ".1f", "title": "Tajima's D", "domain": true, "domainColor": "#000000", "domainWidth": 4}}}}
 ]},
{"width": 304, "height": 242, "title": {"text": "D", "dx": -79},
 "layer": [
  {"data": {"name": "bands"}, "mark": "rect", "encoding": {"x": {"field": "s", "type": "quantitative", "scale": {"domain": [-36, 876], "nice": false, "zero": false}, "axis": {"values": [46.5,124.5,195.5,273,343,406.5,474,547.5,619.5,691,752,813.5], "labelOverlap": false, "labelFlush": false, "labelBound": false, "labelExpr": "datum.value < 90 ? '1' : datum.value < 160 ? '2' : datum.value < 230 ? '3' : datum.value < 300 ? '4' : datum.value < 375 ? '5' : datum.value < 440 ? '6' : datum.value < 510 ? '7' : datum.value < 585 ? '8' : datum.value < 655 ? '9' : datum.value < 720 ? '10' : datum.value < 780 ? '' : '12'", "title": "Linkage Group"}}, "x2": {"field": "e"}, "fill": {"field": "k", "type": "nominal", "scale": {"domain": ["d", "l"], "range": ["#e2e2e2", "#f0f0f0"]}, "legend": null}}},
  {"data": {"name": "d"}, "mark": {"type": "line", "strokeWidth": 1.2, "strokeJoin": "round"}, "encoding": {
    "x": {"field": "x", "type": "quantitative", "scale": {"domain": [-36, 876], "nice": false, "zero": false}, "axis": {"values": [46.5,124.5,195.5,273,343,406.5,474,547.5,619.5,691,752,813.5], "labelOverlap": false, "labelFlush": false, "labelBound": false, "labelExpr": "datum.value < 90 ? '1' : datum.value < 160 ? '2' : datum.value < 230 ? '3' : datum.value < 300 ? '4' : datum.value < 375 ? '5' : datum.value < 440 ? '6' : datum.value < 510 ? '7' : datum.value < 585 ? '8' : datum.value < 655 ? '9' : datum.value < 720 ? '10' : datum.value < 780 ? '' : '12'", "title": "Linkage Group"}},
    "y": {"field": "y", "type": "quantitative", "scale": {"domain": [0, 0.2], "nice": false, "zero": false}, "axis": {"values": [0,0.05,0.1,0.15,0.2], "labelOverlap": false, "labelFlush": false, "format": ".2f", "title": "Z", "domain": true, "domainColor": "#000000", "domainWidth": 4}},
    "stroke": {"field": "g", "type": "nominal", "scale": {"domain": [1,2,3,4,5,6,7,8,9,10,11,12], "range": ["#6cc56b","#4a8a4a","#6cc56b","#4a8a4a","#6cc56b","#4a8a4a","#6cc56b","#4a8a4a","#6cc56b","#4a8a4a","#6cc56b","#4a8a4a"]}, "legend": null}}},
  {"data": {"values": [{"m": 0.0398}]}, "mark": {"type": "rule", "color": "black", "strokeWidth": 1, "strokeDash": [1, 2]}, "encoding": {"y": {"field": "m", "type": "quantitative", "scale": {"domain": [0, 0.2], "nice": false, "zero": false}, "axis": {"values": [0,0.05,0.1,0.15,0.2], "labelOverlap": false, "labelFlush": false, "format": ".2f", "title": "Z", "domain": true, "domainColor": "#000000", "domainWidth": 4}}}},
  {"data": {"values": [{"px": 46.5, "py": 0}, {"px": 813.5, "py": 0}]}, "mark": {"type": "line", "color": "black", "strokeWidth": 2.6, "strokeCap": "square"}, "encoding": {"x": {"field": "px", "type": "quantitative", "scale": {"domain": [-36, 876], "nice": false, "zero": false}, "axis": {"values": [46.5,124.5,195.5,273,343,406.5,474,547.5,619.5,691,752,813.5], "labelOverlap": false, "labelFlush": false, "labelBound": false, "labelExpr": "datum.value < 90 ? '1' : datum.value < 160 ? '2' : datum.value < 230 ? '3' : datum.value < 300 ? '4' : datum.value < 375 ? '5' : datum.value < 440 ? '6' : datum.value < 510 ? '7' : datum.value < 585 ? '8' : datum.value < 655 ? '9' : datum.value < 720 ? '10' : datum.value < 780 ? '' : '12'", "title": "Linkage Group"}}, "y": {"field": "py", "type": "quantitative", "scale": {"domain": [0, 0.2], "nice": false, "zero": false}, "axis": {"values": [0,0.05,0.1,0.15,0.2], "labelOverlap": false, "labelFlush": false, "format": ".2f", "title": "Z", "domain": true, "domainColor": "#000000", "domainWidth": 4}}}}
 ]}
]}
],
"spacing": 26
}
